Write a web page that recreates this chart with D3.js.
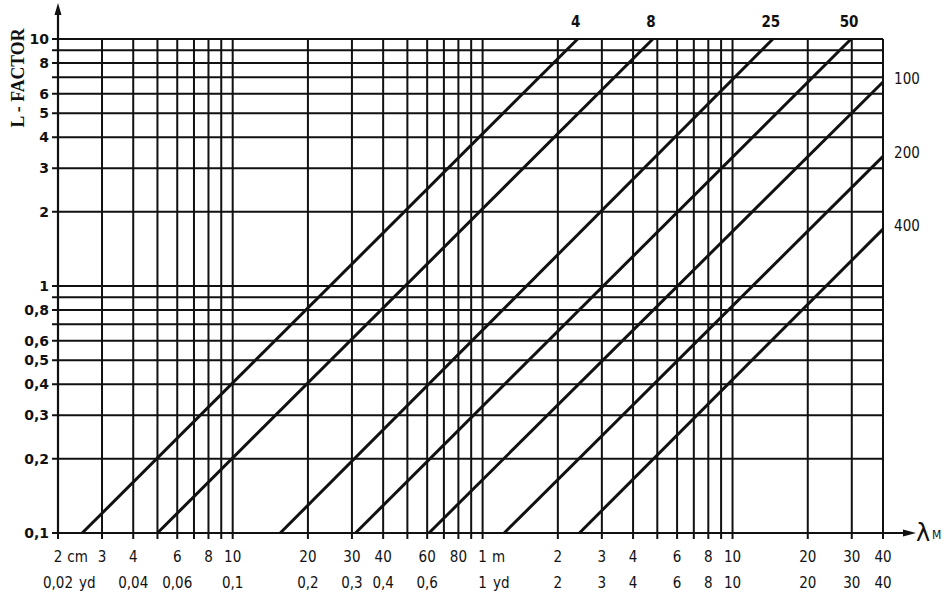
<!DOCTYPE html>
<html>
<head>
<meta charset="utf-8">
<script src="https://cdn.jsdelivr.net/npm/d3@7"></script>
<style>
  body { margin: 0; background: #fff; }
  svg { display: block; }
  .num { font-family: "DejaVu Sans Condensed", "DejaVu Sans", sans-serif; font-stretch: condensed; fill: #111; }
</style>
</head>
<body>
<div id="graph"></div>
<script>
// wavelength grid (m) and L-factor grid
const xGrid = [0.02, 0.03, 0.04, 0.05, 0.06, 0.07, 0.08, 0.09,
               0.1, 0.2, 0.3, 0.4, 0.5, 0.6, 0.7, 0.8, 0.9,
               1, 2, 3, 4, 5, 6, 7, 8, 9, 10, 20, 30, 40];
const yGrid = [0.1, 0.2, 0.3, 0.4, 0.5, 0.6, 0.7, 0.8, 0.9,
               1, 2, 3, 4, 5, 6, 7, 8, 9, 10];

const yTicks = [10, 8, 6, 5, 4, 3, 2, 1, 0.8, 0.6, 0.5, 0.4, 0.3, 0.2, 0.1];
const yTickText = ['10', '8', '6', '5', '4', '3', '2', '1', '0,8', '0,6', '0,5', '0,4', '0,3', '0,2', '0,1'];

// metric row
const mTicks = [0.02, 0.03, 0.04, 0.06, 0.08, 0.1, 0.2, 0.3, 0.4, 0.6, 0.8,
                1, 2, 3, 4, 6, 8, 10, 20, 30, 40];
const mText = ['2', '3', '4', '6', '8', '10', '20', '30', '40', '60', '80',
               '1', '2', '3', '4', '6', '8', '10', '20', '30', '40'];
const mUnits = { 0.02: 'cm', 1: 'm' };

// yard row
const ydTicks = [0.02, 0.04, 0.06, 0.1, 0.2, 0.3, 0.4, 0.6, 1, 2, 3, 4, 6, 8, 10, 20, 30, 40];
const ydText = ['0,02', '0,04', '0,06', '0,1', '0,2', '0,3', '0,4', '0,6',
                '1', '2', '3', '4', '6', '8', '10', '20', '30', '40'];
const ydUnits = { 0.02: 'yd', 1: 'yd' };

// the seven curves: label, start point [λ, L], end point [λ, L]
const curveLabels = ['4', '8', '25', '50', '100', '200', '400'];
const curveStart = [[0.025, 0.1], [0.05, 0.1], [0.155, 0.1], [0.31, 0.1], [0.61, 0.1], [1.22, 0.1], [2.44, 0.1]];
const curveEnd = [[2.4, 10], [4.8, 10], [14.5, 10], [29.8, 10], [40, 6.7], [40, 3.35], [40, 1.7]];

const W = 951, H = 602;
const svg = d3.select('#graph').append('svg').attr('width', W).attr('height', H);

const x = d3.scaleLog().domain([0.02, 40]).range([58, 883]);
const y = d3.scaleLog().domain([0.1, 10]).range([533, 39]);

const ink = '#111';

// grid
svg.append('g').selectAll('line').data(xGrid).join('line')
    .attr('x1', d => x(d)).attr('x2', d => x(d))
    .attr('y1', y(10)).attr('y2', y(0.1) + 6)
    .attr('stroke', ink).attr('stroke-width', 2);

svg.append('g').selectAll('line').data(yGrid).join('line')
    .attr('x1', x(0.02) - 6).attr('x2', x(40))
    .attr('y1', d => y(d)).attr('y2', d => y(d))
    .attr('stroke', ink).attr('stroke-width', 2);

// axes with arrows
svg.append('line').attr('x1', x(0.02)).attr('x2', x(0.02)).attr('y1', y(0.1)).attr('y2', 10)
    .attr('stroke', ink).attr('stroke-width', 2.2);
svg.append('path').attr('d', `M${x(0.02)},3 L${x(0.02) - 3.5},15 L${x(0.02) + 3.5},15 Z`).attr('fill', ink);
svg.append('line').attr('x1', x(0.02)).attr('x2', 908).attr('y1', y(0.1)).attr('y2', y(0.1))
    .attr('stroke', ink).attr('stroke-width', 2.2);
svg.append('path').attr('d', `M916,${y(0.1)} L903,${y(0.1) - 3.5} L903,${y(0.1) + 3.5} Z`).attr('fill', ink);

// curves
const curves = curveLabels.map((l, i) => ({ label: l, a: curveStart[i], b: curveEnd[i] }));
svg.append('g').selectAll('line').data(curves).join('line')
    .attr('x1', d => x(d.a[0])).attr('y1', d => y(d.a[1]))
    .attr('x2', d => x(d.b[0])).attr('y2', d => y(d.b[1]))
    .attr('stroke', ink).attr('stroke-width', 3);

// curve labels: on top if they reach L=10, else at the right
svg.append('g').selectAll('text').data(curves).join('text')
    .attr('class', 'num')
    .attr('x', d => d.b[1] >= 10 ? x(d.b[0]) - 2 : 907)
    .attr('y', d => d.b[1] >= 10 ? 27 : y(d.b[1]) + 2)
    .attr('text-anchor', 'middle')
    .attr('font-size', 15)
    .attr('font-weight', d => d.b[1] >= 10 ? 'bold' : 'normal')
    .text(d => d.label);

// y labels
svg.append('g').selectAll('text').data(yTicks).join('text')
    .attr('x', 49).attr('y', d => y(d))
    .attr('dy', '0.36em')
    .attr('text-anchor', 'end')
    .attr('font-family', '"DejaVu Sans", sans-serif')
    .attr('font-weight', 'bold')
    .attr('font-size', 14)
    .attr('fill', ink)
    .text((d, i) => yTickText[i]);

svg.append('text')
    .attr('transform', 'translate(24,78) rotate(-90)')
    .attr('text-anchor', 'middle')
    .attr('font-family', '"Liberation Serif", serif')
    .attr('font-weight', 'bold')
    .attr('font-size', 19)
    .attr('textLength', 99).attr('lengthAdjust', 'spacingAndGlyphs')
    .attr('fill', ink)
    .text('L - FACTOR');

// x label rows
function labelRow(ticks, texts, units, yPos, gap) {
    const g = svg.append('g');
    ticks.forEach((v, i) => {
        const t = g.append('text').attr('class', 'num')
            .attr('x', x(v)).attr('y', yPos)
            .attr('text-anchor', 'middle').attr('font-size', 15)
            .text(texts[i]);
        if (units[v]) {
            const w = t.node().getComputedTextLength();
            g.append('text').attr('class', 'num')
                .attr('x', x(v) + w / 2 + gap).attr('y', yPos)
                .attr('font-size', 15)
                .text(units[v]);
        }
    });
}
labelRow(mTicks, mText, mUnits, 562, 5);
labelRow(ydTicks, ydText, ydUnits, 588, 6);

// λM
svg.append('text').attr('x', 916).attr('y', 541)
    .attr('font-family', '"DejaVu Sans", sans-serif').attr('font-size', 24).attr('fill', ink)
    .text('λ');
svg.append('text').attr('x', 932).attr('y', 539).attr('class', 'num')
    .attr('font-size', 12).text('M');
</script>
</body>
</html>
